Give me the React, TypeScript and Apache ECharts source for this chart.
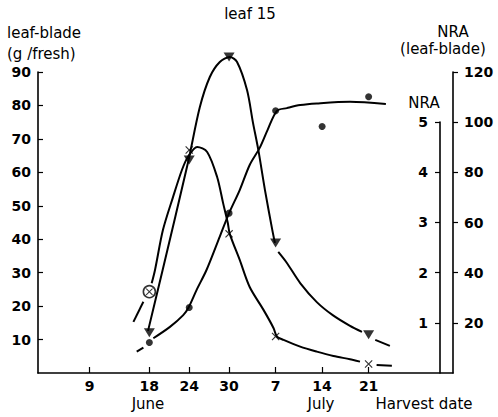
import React, { useEffect, useRef } from "react";
import * as echarts from "echarts";

// x values are days counted from 9 June
const dayTicks = [0, 9, 15, 21, 28, 35, 42];
const dayTickLabels = ["9", "18", "24", "30", "7", "14", "21"];

// measured points (leaf-blade scale)
const triangleData = [[9, 12], [15, 63.7], [21, 94.5], [28, 38.9], [42, 11.4]];
const crossData = [[15, 66.7], [21, 41.6], [28, 10.9], [42, 2.7]];
const dotData = [[9, 9.1], [15, 19.6], [21, 47.8], [28, 78.4], [35, 73.7], [42, 82.6]];
const circledXData = [[9, 24.3]];

// hand-drawn fitted curves
const triangleCurveRise = [[8.8, 12.6], [11.0, 30.8], [14.8, 62.8], [16.6, 79.5], [18.1, 88.5], [19.6, 93.0], [21.1, 94.5], [22.2, 93.0], [23.7, 84.6], [24.6, 74.8], [25.4, 66.7], [26.4, 54.7], [27.5, 42.8], [27.9, 38.9]];
const triangleCurveFall = [[28.4, 36.2], [29.7, 32.9], [31.7, 26.9], [34.2, 21.2], [36.6, 17.3], [39.2, 14.1], [41.0, 12.3]];
const triangleCurveTail = [[43.0, 9.9], [45.2, 8.1]];

const crossCurveHead = [[6.6, 15.3], [8.1, 21.3]];
const crossCurve = [[9.35, 26.8], [9.85, 30.8], [11.05, 42.8], [12.56, 52.6], [13.9, 60.7], [14.8, 64.6], [16.2, 67.6], [17.7, 66.1], [19.2, 58.6], [20.1, 50.8], [20.8, 44.9], [21.1, 41.6], [22.6, 33.8], [24.1, 25.7], [26.2, 18.8], [27.7, 13.4], [28.2, 10.9], [29.2, 9.9], [31.7, 7.9], [34.2, 6.4], [36.7, 5.1], [39.2, 4.1], [40.7, 3.4]];
const crossCurveTail = [[43.2, 2.4], [45.5, 2.2]];

const dotCurveHead = [[7.1, 6.4], [8.1, 7.6]];
const dotCurve = [[9.6, 10.4], [12.1, 13.8], [14.1, 17.3], [14.9, 19.6], [16.1, 24.8], [17.6, 30.8], [19.6, 40.8], [21, 47.8], [22.6, 54.7], [24.1, 62.2], [25.6, 67.3], [26.8, 72.7], [28.2, 78.4], [29.7, 79.2], [31.7, 80.1], [34.2, 80.6], [39.2, 81.1], [44.6, 80.4]];

const FONT = "DejaVu Sans";
const X_SYMBOL = "path://M0,1L1,0L5,4L9,0L10,1L6,5L10,9L9,10L5,6L1,10L0,9L4,5Z";

const lineSeries = (data: number[][]) => ({
  type: "line",
  data,
  xAxisIndex: 0,
  yAxisIndex: 0,
  smooth: 0.3,
  symbol: "none",
  showSymbol: false,
  clip: false,
  lineStyle: { color: "#000", width: 2 },
  silent: true,
});

export default function App() {
  const ref = useRef<HTMLDivElement>(null);
  useEffect(() => {
    if (!ref.current) return;
    const chart = echarts.init(ref.current, null, { renderer: "svg" });
    const labelStyle = { color: "#000", fontFamily: FONT, fontSize: 14, fontWeight: "bold" };
    const txt = (text: string, x: number, y: number, align = "center") => ({
      type: "text",
      x,
      y,
      style: {
        text,
        fill: "#000",
        fontFamily: FONT,
        fontSize: 15,
        textAlign: align,
        textVerticalAlign: "middle",
      },
    });
    const yLine = { show: true, onZero: false, lineStyle: { color: "#000", width: 1.6 } };
    chart.setOption({
      animation: false,
      backgroundColor: "#fff",
      grid: [
        { left: 38, right: 45, top: 72, bottom: 44 },
        { left: 38, right: 58, top: 122, bottom: 44 },
      ],
      xAxis: [
        {
          type: "value",
          gridIndex: 0,
          min: -7.76,
          max: 54.7,
          splitLine: { show: false },
          axisLine: { onZero: false, lineStyle: { color: "#000", width: 1.6 } },
          axisTick: { show: true, inside: true, length: 6, customValues: dayTicks, lineStyle: { color: "#000", width: 1.2 } },
          axisLabel: {
            ...labelStyle,
            margin: 6,
            customValues: dayTicks,
            formatter: (v: number) => {
              const i = dayTicks.indexOf(v);
              return i >= 0 ? dayTickLabels[i] : "";
            },
          },
        },
        { type: "value", gridIndex: 1, min: -7.76, max: 54.7, show: false },
      ],
      yAxis: [
        {
          type: "value",
          gridIndex: 0,
          position: "left",
          min: 0,
          max: 90,
          interval: 10,
          splitLine: { show: false },
          axisLine: yLine,
          axisTick: { show: true, inside: true, length: 5, lineStyle: { color: "#000", width: 1.2 } },
          axisLabel: { ...labelStyle, margin: 7, showMinLabel: false },
        },
        {
          type: "value",
          gridIndex: 0,
          position: "right",
          min: 0,
          max: 120,
          interval: 20,
          splitLine: { show: false },
          axisLine: yLine,
          axisTick: { show: true, inside: false, length: 5, lineStyle: { color: "#000", width: 1.2 } },
          axisLabel: { ...labelStyle, margin: 11, showMinLabel: false },
        },
        {
          type: "value",
          gridIndex: 1,
          position: "right",
          min: 0,
          max: 5,
          interval: 1,
          splitLine: { show: false },
          axisLine: yLine,
          axisTick: { show: true, inside: true, length: 5, lineStyle: { color: "#000", width: 1.2 } },
          axisLabel: { ...labelStyle, inside: true, margin: 12, showMinLabel: false },
        },
      ],
      graphic: [
        txt("leaf 15", 250, 14),
        txt("leaf-blade", 7, 33, "left"),
        txt("(g /fresh)", 7, 54, "left"),
        txt("NRA", 453, 32),
        txt("(leaf-blade)", 443, 49),
        txt("NRA", 424, 103),
        txt("June", 148, 404),
        txt("July", 321, 404),
        txt("Harvest date", 424, 404),
      ],
      series: [
        lineSeries(triangleCurveRise),
        lineSeries(triangleCurveFall),
        lineSeries(triangleCurveTail),
        lineSeries(crossCurveHead),
        lineSeries(crossCurve),
        lineSeries(crossCurveTail),
        lineSeries(dotCurveHead),
        lineSeries(dotCurve),
        {
          type: "scatter",
          data: triangleData,
          symbol: "triangle",
          symbolRotate: 180,
          symbolSize: [11, 9],
          clip: false,
          itemStyle: { color: "#000" },
          z: 5,
        },
        {
          type: "scatter",
          data: crossData,
          symbol: X_SYMBOL,
          symbolSize: 8,
          clip: false,
          itemStyle: { color: "#000" },
          z: 5,
        },
        {
          type: "scatter",
          data: dotData,
          symbol: "circle",
          symbolSize: 7,
          clip: false,
          itemStyle: { color: "#000" },
          z: 5,
        },
        {
          type: "scatter",
          data: circledXData,
          symbol: "circle",
          symbolSize: 12,
          itemStyle: { color: "#fff", borderColor: "#000", borderWidth: 1.6 },
          z: 5,
        },
        {
          type: "scatter",
          data: circledXData,
          symbol: X_SYMBOL,
          symbolSize: 7,
          itemStyle: { color: "#000" },
          z: 6,
        },
      ],
    });
    return () => chart.dispose();
  }, []);
  return (
    <div
      ref={ref}
      style={{ position: "absolute", left: 0, top: 0, width: 498, height: 417, background: "#fff" }}
    />
  );
}
